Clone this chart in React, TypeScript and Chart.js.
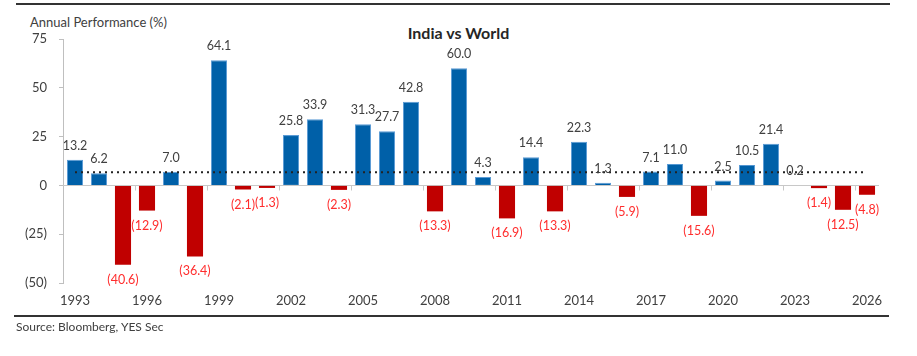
import React, { useEffect, useRef } from "react";
import { Chart, registerables } from "chart.js";

Chart.register(...registerables);

const years: string[] = [
  "1993", "1994", "1995", "1996", "1997", "1998", "1999", "2000", "2001", "2002",
  "2003", "2004", "2005", "2006", "2007", "2008", "2009", "2010", "2011", "2012",
  "2013", "2014", "2015", "2016", "2017", "2018", "2019", "2020", "2021", "2022",
  "2023", "2024", "2025", "2026",
];

const performance: number[] = [
  13.2, 6.2, -40.6, -12.9, 7.0, -36.4, 64.1, -2.1, -1.3, 25.8,
  33.9, -2.3, 31.3, 27.7, 42.8, -13.3, 60.0, 4.3, -16.9, 14.4,
  -13.3, 22.3, 1.3, -5.9, 7.1, 11.0, -15.6, 2.5, 10.5, 21.4,
  0.2, -1.4, -12.5, -4.8,
];

const averageLevel = 6.7;

const yTicks: number[] = [75, 50, 25, 0, -25, -50];

const BLUE = "#0060a8";
const BLUE_EDGE = "#5b9bd5";
const RED = "#c00000";
const FONT = "Lato, 'Open Sans', sans-serif";

const fmt = (v: number) => (v < 0 ? `(${Math.abs(v).toFixed(1)})` : v.toFixed(1));

const labelPlugin = {
  id: "barLabels",
  afterDatasetsDraw(chart: any) {
    const meta = chart.getDatasetMeta(1);
    const ctx = chart.ctx;
    ctx.save();
    ctx.font = `12.5px ${FONT}`;
    ctx.textAlign = "center";
    ctx.textBaseline = "middle";
    meta.data.forEach((el: any, i: number) => {
      const v = performance[i];
      if (v >= 0) {
        ctx.fillStyle = "#404040";
        ctx.fillText(fmt(v), el.x, el.y - 14);
      } else {
        ctx.fillStyle = "#ff2d2d";
        ctx.fillText(fmt(v), el.x, el.y + 15);
      }
    });
    ctx.restore();
  },
};

const zeroAxisPlugin = {
  id: "zeroAxis",
  beforeDatasetsDraw(chart: any) {
    const x = chart.scales.x;
    const y = chart.scales.y;
    const ctx = chart.ctx;
    const y0 = Math.round(y.getPixelForValue(0)) + 0.5;
    const half = (x.getPixelForValue(1) - x.getPixelForValue(0)) / 2;
    ctx.save();
    ctx.strokeStyle = "#c8c8c8";
    ctx.lineWidth = 1;
    ctx.beginPath();
    ctx.moveTo(x.left, y0);
    ctx.lineTo(x.right, y0);
    years.forEach((_, i) => {
      if (i % 3 === 0 && i > 0) {
        const px = Math.round(x.getPixelForValue(i) - half) + 0.5;
        ctx.moveTo(px, y0);
        ctx.lineTo(px, y0 + 5);
      }
    });
    ctx.stroke();
    ctx.restore();
  },
};

export default function App() {
  const ref = useRef<HTMLCanvasElement | null>(null);

  useEffect(() => {
    if (!ref.current) return;
    const chart = new Chart(ref.current, {
      data: {
        labels: years,
        datasets: [
          {
            type: "line",
            data: years.map(() => averageLevel),
            borderColor: "#222222",
            borderWidth: 2,
            borderDash: [2, 4],
            pointRadius: 0,
            fill: false,
            order: 0,
          } as any,
          {
            type: "bar",
            data: performance,
            backgroundColor: performance.map((v) => (v >= 0 ? BLUE : RED)),
            borderColor: performance.map((v) => (v >= 0 ? BLUE_EDGE : RED)),
            borderWidth: performance.map((v) => (v >= 0 ? 1 : 0)),
            barPercentage: 0.67,
            categoryPercentage: 1,
            order: 1,
          } as any,
        ],
      },
      options: {
        responsive: false,
        animation: false,
        devicePixelRatio: 1,
        layout: { padding: { left: 0, right: 38, top: 39, bottom: 43 } },
        plugins: {
          legend: { display: false },
          tooltip: { enabled: false },
          title: { display: false },
        },
        scales: {
          x: {
            type: "category",
            position: "bottom",
            offset: true,
            grid: { display: false, drawTicks: false },
            border: { display: false },
            ticks: {
              autoSkip: false,
              maxRotation: 0,
              padding: 10,
              color: "#404040",
              font: { family: FONT, size: 13 },
              callback: (_v: any, i: number) => (i % 3 === 0 ? years[i] : ""),
            },
            afterFit: (s: any) => {
              s.height = 30;
            },
          },
          y: {
            type: "linear",
            min: -50,
            max: 75,
            afterBuildTicks: (s: any) => {
              s.ticks = yTicks.map((v) => ({ value: v }));
            },
            grid: {
              drawOnChartArea: false,
              drawTicks: true,
              tickLength: 4,
              color: "#bfbfbf",
            },
            border: { display: true, color: "#bfbfbf", width: 1 },
            ticks: {
              padding: 12,
              color: "#404040",
              font: { family: FONT, size: 13 },
              callback: (v: any) => (Number(v) < 0 ? `(${Math.abs(Number(v))})` : `${v}`),
            },
            afterFit: (s: any) => {
              s.width = 63;
            },
          },
        },
      },
      plugins: [zeroAxisPlugin, labelPlugin],
    } as any);
    return () => chart.destroy();
  }, []);

  return (
    <div style={{ position: "absolute", left: 0, top: 0, width: 917, height: 356, fontFamily: FONT, color: "#404040" }}>
      <div style={{ position: "absolute", left: 16, top: 3, width: 874, height: 2, background: "#333333" }} />
      <div style={{ position: "absolute", left: 30, top: 14, fontSize: 13, lineHeight: "16px", whiteSpace: "nowrap" }}>
        Annual Performance (%)
      </div>
      <div style={{ position: "absolute", left: 0, top: 23, width: 917, textAlign: "center", fontSize: 16, fontWeight: 700, lineHeight: "19px", color: "#262626" }}>
        India vs World
      </div>
      <canvas ref={ref} width={917} height={356} style={{ position: "absolute", left: 0, top: 0, width: 917, height: 356 }} />
      <div style={{ position: "absolute", left: 14, top: 315, width: 875, height: 2, background: "#333333" }} />
      <div style={{ position: "absolute", left: 16, top: 319, fontSize: 12, lineHeight: "15px", whiteSpace: "nowrap" }}>
        Source: Bloomberg, YES Sec
      </div>
    </div>
  );
}
